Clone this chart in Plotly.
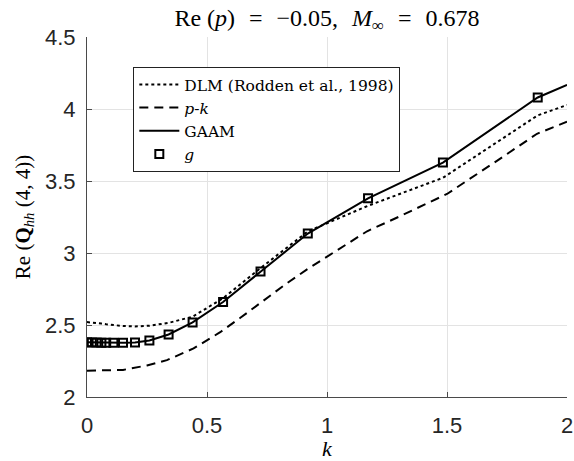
import plotly.graph_objects as go

# reduced frequency k at which GAAM / g-method values were sampled
k_gaam = [0, 0.02, 0.04, 0.06, 0.08, 0.11, 0.15, 0.2, 0.26, 0.34, 0.44, 0.567, 0.723, 0.92, 1.171, 1.483, 1.878, 2.0]
re_gaam = [2.38, 2.379, 2.378, 2.377, 2.376, 2.376, 2.376, 2.379, 2.392, 2.434, 2.518, 2.66, 2.872, 3.135, 3.38, 3.628, 4.08, 4.168]

k_g = k_gaam[:-1]
re_g = re_gaam[:-1]

k_dlm = [0, 0.02, 0.04, 0.06, 0.08, 0.11, 0.15, 0.2, 0.26, 0.34, 0.44, 0.567, 0.723, 0.92, 1.171, 1.483, 1.878, 2.0]
re_dlm = [2.52, 2.518, 2.515, 2.51, 2.505, 2.498, 2.493, 2.49, 2.495, 2.515, 2.558, 2.686, 2.895, 3.15, 3.328, 3.522, 3.956, 4.028]

k_pk = [0, 0.1, 0.15, 0.25, 0.333, 0.444, 0.555, 0.639, 0.75, 0.833, 0.92, 1.0, 1.167, 1.305, 1.5, 1.708, 1.875, 2.0]
re_pk = [2.183, 2.184, 2.188, 2.219, 2.256, 2.337, 2.45, 2.55, 2.69, 2.79, 2.89, 2.976, 3.151, 3.256, 3.41, 3.64, 3.828, 3.912]

x_ticks = [0, 0.5, 1, 1.5, 2]
y_ticks = [2, 2.5, 3, 3.5, 4, 4.5]

serif = 'Liberation Serif, DejaVu Serif, serif'
wide_serif = 'DejaVu Serif, Liberation Serif, serif'
sans = 'Liberation Sans, Arial, sans-serif'
sp = '\u2002\u200a'

fig = go.Figure()
fig.add_trace(go.Scatter(x=k_dlm, y=re_dlm, mode='lines', name='DLM (Rodden et al., 1998)',
                         line=dict(color='black', width=2, dash='dot')))
fig.add_trace(go.Scatter(x=k_pk, y=re_pk, mode='lines', name='<i>p</i>-<i>k</i>',
                         line=dict(color='black', width=2, dash='9px,6px')))
fig.add_trace(go.Scatter(x=k_gaam, y=re_gaam, mode='lines', name='GAAM',
                         line=dict(color='black', width=2)))
fig.add_trace(go.Scatter(x=k_g, y=re_g, mode='markers', name='<i>g</i>',
                         marker=dict(symbol='square-open', size=8, color='black',
                                     line=dict(width=2, color='black'))))

fig.update_layout(
    width=574, height=461,
    margin=dict(l=87, r=7, t=37, b=64, autoexpand=False),
    paper_bgcolor='white', plot_bgcolor='white',
    title=dict(text=f'Re (<i>p</i>){sp}={sp}\u22120.05,{sp}<i>M</i><sub>\u221e</sub>{sp}={sp}0.678',
               x=0.5, xref='paper', xanchor='center', y=0.962, yanchor='middle',
               font=dict(family=serif, size=24, color='black')),
    legend=dict(x=0.0965, y=0.917, xanchor='left', yanchor='top',
                bgcolor='white', bordercolor='#222', borderwidth=1,
                font=dict(family=wide_serif, size=15.5, color='black'),
                tracegroupgap=0, itemwidth=40),
    showlegend=True,
)
fig.update_xaxes(range=[0, 2], tickvals=x_ticks, ticktext=[f'{v:g}' for v in x_ticks],
                 automargin=False,
                 showgrid=True, gridcolor='#e3e3e3', zeroline=False,
                 showline=True, linecolor='#4a4a4a', linewidth=1.2,
                 ticks='inside', ticklen=5, tickcolor='#4a4a4a', ticklabelstandoff=8,
                 tickfont=dict(family=sans, size=22, color='#262626'),
                 title=dict(text='<i>k</i>', font=dict(family=serif, size=22, color='black'), standoff=6))
fig.update_yaxes(range=[2, 4.5], tickvals=y_ticks, ticktext=[f'{v:g}' for v in y_ticks],
                 automargin=False,
                 showgrid=True, gridcolor='#e3e3e3', zeroline=False,
                 showline=True, linecolor='#4a4a4a', linewidth=1.2,
                 ticks='inside', ticklen=5, tickcolor='#4a4a4a', ticklabelstandoff=6,
                 tickfont=dict(family=sans, size=22, color='#262626'),
                 title=dict(text='Re (<b>Q</b><sub><i>hh</i></sub> (4, 4))',
                            font=dict(family=serif, size=21, color='black'), standoff=8))

fig.write_html('out.html', config={'displayModeBar': False},
               post_script="document.body.style.margin='0';document.body.style.overflow='hidden';")
